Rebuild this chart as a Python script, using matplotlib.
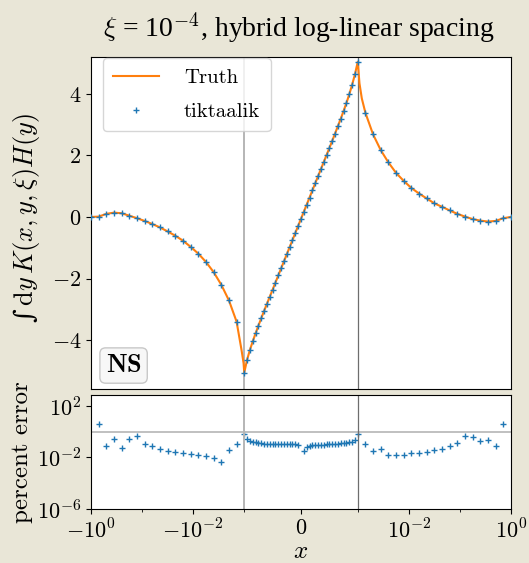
import numpy as np
import matplotlib
matplotlib.use("Agg")
import matplotlib.pyplot as plt

plt.rcParams["font.family"] = ["cmr10", "DejaVu Serif"]
plt.rcParams["mathtext.fontset"] = "cm"
plt.rcParams["axes.formatter.use_mathtext"] = True
plt.rcParams["axes.unicode_minus"] = True

# sample grid: log spaced outside |x| > 1e-3, linear inside
x_log = np.logspace(-3, 0, 21)           # 1e-3 ... 1
x_lin = np.linspace(-1e-3, 1e-3, 41)[1:-1]

# tiktaalik values
val_left_outer = [0.0, 0.01, 0.10, 0.14, 0.12, 0.04, -0.04, -0.13, -0.23, -0.34, -0.47,
                  -0.61, -0.77, -0.97, -1.19, -1.46, -1.79, -2.20, -2.71, -3.40, -5.06]
val_center = [-4.64, -4.32, -4.04, -3.78, -3.53, -3.29, -3.05, -2.82, -2.59, -2.36,
              -2.13, -1.90, -1.67, -1.44, -1.21, -0.98, -0.75, -0.52, -0.29,
              -0.06,
              0.17, 0.40, 0.63, 0.86, 1.09, 1.32, 1.55, 1.78, 2.01, 2.24,
              2.47, 2.71, 2.95, 3.19, 3.44, 3.70, 3.98, 4.29, 4.63]
val_right_outer = [5.04, 3.38, 2.68, 2.17, 1.77, 1.43, 1.17, 0.94, 0.76, 0.60, 0.44,
                   0.33, 0.21, 0.10, 0.01, -0.07, -0.12, -0.15, -0.13, -0.04, 0.0]

# extra points of the truth curve close to the cusps
cusp_x = [-1.128e-3, -1.03e-3, 1.08e-3, 1.2e-3]
cusp_y = [-4.33, -4.75, 4.34, 3.85]

# percent error, log10 of the value
err_left_outer = [0.58, -1.13, -0.59, -1.24, -0.56, -0.33, -0.93, -1.13, -1.34, -1.50,
                  -1.57, -1.68, -1.75, -1.81, -1.91, -2.01, -2.32, -1.42, -0.98, -0.20]
err_center_left = [-0.54, -0.69, -0.77, -0.82, -0.87, -0.90, -0.92, -0.94, -0.95, -0.96,
                   -0.97, -0.97, -0.98, -0.98, -0.98, -0.99, -0.99, -0.99, -1.00]
err_center_right = [-1.52, -1.18, -1.10, -1.07, -1.05, -1.04, -1.02, -1.01, -0.99, -0.98,
                    -0.96, -0.95, -0.93, -0.91, -0.89, -0.86, -0.82, -0.76, -0.65]
err_right_outer = [-0.20, -0.93, -1.50, -1.31, -1.81, -1.81, -1.78, -1.68, -1.63, -1.55,
                   -1.44, -1.34, -1.13, -0.87, -0.30, -0.43, -0.69, -0.62, -1.11, 0.58]

x = np.concatenate([-x_log[::-1], x_lin, x_log])
y = np.concatenate([val_left_outer, val_center, val_right_outer])

tx = np.concatenate([x, cusp_x])
ty = np.concatenate([y, cusp_y])
order = np.argsort(tx)
tx, ty = tx[order], ty[order]

x_err = np.concatenate([-x_log[19::-1], x_lin[:19], x_lin[20:], x_log[:20]])
err = 10.0 ** np.concatenate([err_left_outer, err_center_left, err_center_right, err_right_outer])

xi_line = 1e-3
bg = "#e9e6d7"

fig = plt.figure(figsize=(5.29, 5.63), dpi=100, facecolor=bg)
ax = fig.add_axes([0.172, 0.309, 0.794, 0.590])
ax2 = fig.add_axes([0.172, 0.0959, 0.794, 0.2025], sharex=ax)

ax.plot(tx, ty, color="C1", lw=1.5, label="Truth", zorder=2)
ax.plot(x, y, "+", color="C0", ms=5, mew=1.0, label="tiktaalik", zorder=3)
ax.axvline(-xi_line, color="#b5b5b5", lw=1.4, zorder=1)
ax.axvline(xi_line, color="#6e6e6e", lw=0.9, zorder=1)
ax.set_xscale("symlog", linthresh=1e-3, linscale=1)
ax.set_xlim(-1, 1)
ax.set_ylim(-5.59, 5.20)
ax.set_yticks([-4, -2, 0, 2, 4])
ax.tick_params(axis="x", labelbottom=False, bottom=False, which="both")
ax.tick_params(axis="y", labelsize=16)
# plain integral sign from DejaVu Serif, the rest as cm mathtext
ax.set_ylabel("\u222b" + r"$\,\mathrm{d}y\,K(x,y,\xi)H(y)$", fontsize=19,
              family="DejaVu Serif")
ax.yaxis.set_label_coords(-0.117, 0.515)
leg = ax.legend(loc="upper left", bbox_to_anchor=(0.028, 0.997), borderaxespad=0,
                fontsize=15, handlelength=2.2, labelspacing=0.75, borderpad=0.5,
                handletextpad=1.2, fancybox=True)
ax.text(0.035, 0.035, r"$\mathbf{NS}$", transform=ax.transAxes, fontsize=19,
        ha="left", va="bottom",
        bbox=dict(boxstyle="round,pad=0.22", facecolor="#f7f7f7", edgecolor="#c8c8c8"))

ax2.plot(x_err, err, "+", color="C0", ms=5, mew=1.0)
ax2.axhline(1.0, color="#b5b5b5", lw=1.2)
ax2.axvline(-xi_line, color="#b5b5b5", lw=1.4)
ax2.axvline(xi_line, color="#6e6e6e", lw=0.9)
ax2.set_yscale("log")
ax2.set_ylim(1e-6, 10 ** 2.85)
ax2.set_yticks([1e-6, 1e-2, 1e2])
ax2.yaxis.set_minor_locator(matplotlib.ticker.NullLocator())
ax2.set_xscale("symlog", linthresh=1e-3, linscale=1)
ax2.set_xlim(-1, 1)
ax2.set_xticks([-1, -1e-2, 0, 1e-2, 1])
ax2.set_xticks([-0.1, -1e-3, 1e-3, 0.1], minor=True)
ax2.set_xticklabels([r"$-10^{0}$", r"$-10^{-2}$", r"$0$", r"$10^{-2}$", r"$10^{0}$"])
ax2.tick_params(labelsize=16)
ax2.set_ylabel("percent error", fontsize=18)
ax2.yaxis.set_label_coords(-0.137, 0.5)
ax2.set_xlabel(r"$x$", fontsize=18)
ax2.xaxis.set_label_coords(0.5, -0.28)

fig.text(0.565, 0.95, r"$\xi$ = 10$^{-4}$, hybrid log-linear spacing",
         ha="center", va="center", fontsize=20, family="Liberation Serif")

fig.savefig("out.png", dpi=100, facecolor=bg)
